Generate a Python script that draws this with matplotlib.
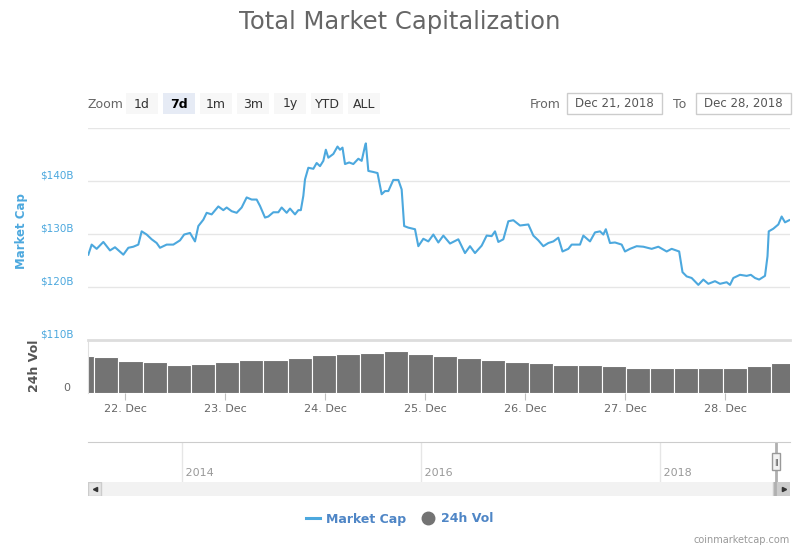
import numpy as np
import pandas as pd
import matplotlib
matplotlib.use('Agg')
import matplotlib.pyplot as plt
import matplotlib.dates as mdates
from matplotlib.patches import Rectangle
from matplotlib.lines import Line2D
from matplotlib.transforms import ScaledTranslation

# market cap, hours after 21 Dec 2018 00:00 and value in $B
cap_hours = [15.2, 16.0, 17.2, 18.8, 20.4, 21.6, 23.6, 24.8, 26.0, 27.2, 28.0, 29.2,
             30.4, 31.6, 32.4, 34.0, 35.6, 37.2, 38.2, 39.6, 40.8, 41.6, 42.8, 43.6,
             44.8, 46.4, 47.6, 48.4, 49.6, 50.8, 52.0, 53.2, 54.4, 55.6, 56.4, 57.6,
             58.4, 59.6, 60.8, 61.6, 62.8, 63.6, 64.8, 65.6, 66.2, 66.8, 67.2, 68.0,
             69.2, 70.0, 70.8, 71.6, 72.2, 72.8, 74.0, 75.0, 75.6, 76.2, 76.8, 77.8,
             78.8, 80.0, 80.8, 81.6, 81.8, 82.4, 83.6, 84.6, 85.6, 86.4, 87.2, 88.4,
             89.6, 90.4, 91.0, 92.0, 93.6, 94.4, 95.6, 96.8, 98.0, 99.2, 100.4, 102.0,
             104.0, 105.6, 106.8, 108.0, 109.6, 110.8, 112.0, 112.8, 113.6, 114.8, 116.0,
             117.2, 118.8, 120.8, 122.0, 123.2, 124.4, 125.6, 126.8, 128.0, 129.0, 130.4,
             131.2, 132.4, 133.2, 134.0, 135.6, 136.8, 138.0, 138.8, 139.4, 140.4, 141.6,
             143.2, 144.0, 145.2, 146.8, 148.4, 150.4, 152.0, 154.0, 155.2, 157.0, 157.8,
             158.8, 160.0, 161.6, 162.8, 164.0, 165.6, 166.8, 168.4, 169.2, 170.0, 171.6,
             173.2, 174.2, 175.2, 176.2, 177.6, 178.2, 178.5, 179.6, 180.8, 181.6, 182.4,
             183.4]
cap_values = [126.1, 128.0, 127.2, 128.5, 126.9, 127.5, 126.1, 127.4, 127.6, 128.0, 130.5, 129.9,
              129.0, 128.3, 127.4, 128.0, 128.0, 128.8, 129.9, 130.2, 128.6, 131.5, 132.7, 134.0,
              133.7, 135.2, 134.5, 135.0, 134.3, 134.0, 135.0, 136.9, 136.5, 136.5, 135.3, 133.1,
              133.3, 134.1, 134.1, 135.0, 134.0, 134.8, 133.7, 134.5, 134.5, 137.2, 140.3, 142.5,
              142.3, 143.4, 142.8, 143.8, 145.9, 144.4, 145.1, 146.5, 145.9, 146.3, 143.2, 143.5,
              143.2, 144.2, 143.8, 146.6, 147.1, 141.9, 141.7, 141.5, 137.5, 138.1, 138.1, 140.2,
              140.2, 138.4, 131.5, 131.2, 130.9, 127.7, 129.1, 128.6, 129.9, 128.4, 129.7, 128.2,
              129.0, 126.4, 127.7, 126.4, 127.8, 129.7, 129.6, 130.5, 128.5, 129.0, 132.4,
              132.6, 131.6, 131.8, 129.7, 128.8, 127.7, 128.3, 128.6, 129.3, 126.7, 127.2,
              128.0, 128.0, 128.0, 129.7, 128.6, 130.3, 130.5, 129.9, 130.9, 128.3, 128.4,
              128.0, 126.7, 127.2, 127.7, 127.6, 127.2, 127.6, 126.7, 127.2, 126.7, 122.8,
              122.0, 121.7, 120.4, 121.4, 120.6, 121.1, 120.6, 120.9, 120.4, 121.7, 122.3,
              122.1, 122.3, 121.7, 121.4, 122.1, 125.8, 130.5, 131.0, 131.8, 133.3, 132.2,
              132.6]

# 24h volume in $B, one column per 5.8 h starting 21 Dec 10:50
vol_values = [21.0, 20.5, 18.2, 17.4, 16.0, 16.3, 17.4, 18.6, 18.9, 20.0,
              21.4, 22.2, 22.8, 23.6, 22.2, 21.0, 19.6, 18.7, 17.7, 16.8,
              15.9, 15.9, 15.4, 14.4, 14.0, 14.2, 14.0, 14.2, 15.2, 17.1]
vol_start_hour = 10.83
vol_step_hours = 5.8

cap_ticks = [110, 120, 130, 140, 150]
cap_tick_labels = ['$110B', '$120B', '$130B', '$140B', '']
nav_years = [2014, 2016, 2018]
buttons = ['1d', '7d', '1m', '3m', '1y', 'YTD', 'ALL']

blue = '#4ca8de'
grey_txt = '#666666'
W, H = 800, 550


def box(x0, y0, x1, y1):
    return [x0 / W, 1 - y1 / H, (x1 - x0) / W, (y1 - y0) / H]


base = pd.Timestamp('2018-12-21')
cap_t = base + pd.to_timedelta(cap_hours, unit='h')
vol_t = base + pd.to_timedelta(vol_start_hour + vol_step_hours * np.arange(len(vol_values)), unit='h')
t0 = base + pd.Timedelta(hours=15.12)
t1 = base + pd.Timedelta(hours=183.6)

fig = plt.figure(figsize=(8, 5.5), dpi=100)
fig.patch.set_facecolor('white')

fig.text(0.5, 1 - 22 / H, 'Total Market Capitalization', ha='center', va='center',
         fontsize=17.5, color='#666666')

# range selector
fig.text(88 / W, 1 - 104 / H, 'Zoom', ha='left', va='center', fontsize=9, color=grey_txt)
for i, b in enumerate(buttons):
    x0 = 126 + i * 37
    sel = b == '7d'
    fig.patches.append(Rectangle((x0 / W, 1 - 114 / H), 32 / W, 21 / H, transform=fig.transFigure,
                                 facecolor='#e6ebf5' if sel else '#f7f7f7', edgecolor='none'))
    fig.text((x0 + 16) / W, 1 - 104 / H, b, ha='center', va='center', fontsize=9,
             color='#000000' if sel else '#333333', fontweight='bold' if sel else 'normal')

fig.text(530 / W, 1 - 104 / H, 'From', ha='left', va='center', fontsize=9, color=grey_txt)
fig.text(673 / W, 1 - 104 / H, 'To', ha='left', va='center', fontsize=9, color=grey_txt)
for x0, lab in [(567, 'Dec 21, 2018'), (696, 'Dec 28, 2018')]:
    fig.patches.append(Rectangle((x0 / W, 1 - 114 / H), 95 / W, 21 / H, transform=fig.transFigure,
                                 facecolor='white', edgecolor='#cccccc', lw=1))
    fig.text((x0 + 47.5) / W, 1 - 104 / H, lab, ha='center', va='center', fontsize=8.5, color='#555555')

# market cap panel
ax1 = fig.add_axes(box(88, 128, 790, 340))
ax1.plot(cap_t, cap_values, color=blue, lw=1.5, zorder=3)
ax1.set_xlim(t0, t1)
ax1.set_ylim(110, 150)
ax1.set_yticks(cap_ticks)
ax1.set_yticklabels(cap_tick_labels)
ax1.yaxis.grid(True, color='#e6e6e6', lw=1)
ax1.tick_params(axis='y', length=0, pad=34.5, labelcolor=blue, labelsize=7.5)
ax1.tick_params(axis='x', bottom=False, labelbottom=False)
for lbl in ax1.get_yticklabels():
    lbl.set_horizontalalignment('left')
    lbl.set_transform(lbl.get_transform() + ScaledTranslation(0, 0.06, fig.dpi_scale_trans))
for s in ax1.spines.values():
    s.set_visible(False)
fig.text(22 / W, 1 - 231 / H, 'Market Cap', rotation=90, ha='center', va='center',
         fontsize=8.5, fontweight='bold', color=blue)

# volume panel
ax2 = fig.add_axes(box(88, 340, 790, 393))
ax2.bar(vol_t, vol_values, width=vol_step_hours / 24, align='edge', color='#737373',
        edgecolor='white', lw=0.8)
ax2.set_xlim(t0, t1)
ax2.set_ylim(0, 30)
ax2.set_yticks([0])
ax2.set_yticklabels(['0'])
ax2.tick_params(axis='y', length=0, pad=18, labelcolor=grey_txt, labelsize=8)
for lbl in ax2.get_yticklabels():
    lbl.set_horizontalalignment('left')
    lbl.set_transform(lbl.get_transform() + ScaledTranslation(0, 0.06, fig.dpi_scale_trans))
ax2.xaxis.set_major_locator(mdates.DayLocator())
ax2.xaxis.set_major_formatter(mdates.DateFormatter('%d. %b'))
ax2.tick_params(axis='x', length=5, color='#c0c0c0', labelcolor=grey_txt, labelsize=8, pad=3)
for k in ['right', 'bottom']:
    ax2.spines[k].set_visible(False)
ax2.spines['top'].set_color('#dddddd')
ax2.spines['top'].set_linewidth(2)
ax2.spines['left'].set_color('#e0e0e0')
fig.text(35 / W, 1 - 366 / H, '24h Vol', rotation=90, ha='center', va='center',
         fontsize=9, fontweight='bold', color='#555555')

# navigator
nav = fig.add_axes(box(88, 442, 790, 482))
nav.set_xlim(2013.21, 2019.09)
nav.set_ylim(0, 1)
nav.set_xticks(nav_years)
nav.xaxis.grid(True, color='#e6e6e6', lw=1)
nav.tick_params(length=0, labelbottom=False, left=False, labelleft=False)
for yr in nav_years:
    nav.text(yr, 0.22, ' ' + str(yr), ha='left', va='center', fontsize=8, color='#999999')
for k in ['left', 'right', 'bottom']:
    nav.spines[k].set_visible(False)
nav.spines['top'].set_color('#cccccc')
nav.axvline(2018.97, color='#b0b0b0', lw=2, ymax=1)
nav.add_patch(Rectangle((0.975, 0.3), 0.011, 0.42, transform=nav.transAxes,
                        facecolor='#f2f2f2', edgecolor='#999999', lw=1, zorder=5))
nav.text(0.9805, 0.5, '||', transform=nav.transAxes, ha='center', va='center',
         fontsize=5, color='#333333', zorder=6)

# scrollbar
sb = fig.add_axes(box(88, 482, 790, 496))
sb.set_facecolor('#f2f2f2')
sb.set_xlim(0, 1)
sb.set_ylim(0, 1)
sb.set_xticks([])
sb.set_yticks([])
for s in sb.spines.values():
    s.set_visible(False)
sb.add_patch(Rectangle((0, 0), 13 / 702, 1, facecolor='#e6e6e6', edgecolor='#cccccc', lw=1))
sb.add_patch(Rectangle((685 / 702, 0), 17 / 702, 1, facecolor='#cccccc', edgecolor='#cccccc', lw=1))
sb.plot(6.5 / 702, 0.5, marker='<', ms=3, color='#333333')
sb.plot(696 / 702, 0.5, marker='>', ms=3, color='#333333')
sb.axvline(687 / 702, color='#b0b0b0', lw=2)

# legend
handles = [Line2D([], [], color=blue, lw=2.2, label='Market Cap'),
           Line2D([], [], color='#737373', marker='o', ls='', ms=9, label='24h Vol')]
fig.legend(handles=handles, loc='center', bbox_to_anchor=(400 / W, 1 - 519 / H), ncol=2,
           frameon=False, handlelength=1.1, handletextpad=0.5, columnspacing=1.2,
           prop={'weight': 'bold', 'size': 9}, labelcolor='#4f86c6')

fig.text(790 / W, 1 - 540 / H, 'coinmarketcap.com', ha='right', va='center',
         fontsize=7, color='#999999')

fig.savefig('out.png', dpi=100)
